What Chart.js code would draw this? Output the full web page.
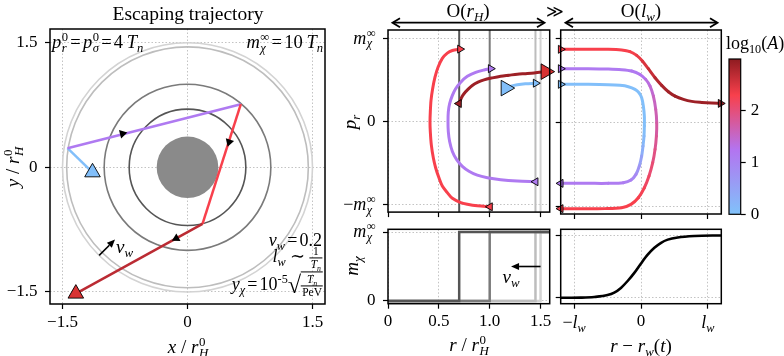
<!DOCTYPE html>
<html>
<head>
<meta charset="utf-8">
<script src="https://cdn.jsdelivr.net/npm/chart.js@4.4.1/dist/chart.umd.min.js"></script>
<style>
html,body{margin:0;padding:0;background:#fff;}
#fig{position:relative;width:784px;height:356px;overflow:hidden;font-family:"Liberation Serif","DejaVu Serif",serif;color:#000;}
#fig canvas{position:absolute;}
#fig svg{position:absolute;left:0;top:0;}
.t{position:absolute;white-space:nowrap;font-size:18px;line-height:1;}
.ss{display:inline-flex;flex-direction:column;font-size:0.68em;line-height:0.88;vertical-align:0.56em;margin-left:0.04em;}
sub{font-size:0.68em;vertical-align:-0.32em;line-height:0;}
sup{font-size:0.68em;vertical-align:0.55em;line-height:0;}
.eq{margin:0 0.12em;}
.fr{display:inline-flex;flex-direction:column;align-items:center;font-size:0.64em;line-height:1.05;vertical-align:middle;}
.fr .dn{border-top:1px solid #000;padding:0 1px;}
.rad{font-size:1.35em;vertical-align:-0.12em;}
.ov{border-top:1px solid #000;display:inline-block;padding-top:1px;}
</style>
</head>
<body>
<div id="fig">
<canvas id="cTraj"></canvas>
<canvas id="cMidTop"></canvas>
<canvas id="cMidBot"></canvas>
<canvas id="cRightTop"></canvas>
<canvas id="cRightBot"></canvas>
<canvas id="cBar"></canvas>
<svg width="784" height="356">
  <g stroke="#000" stroke-width="1.8" fill="none">
    <line x1="393" y1="22.7" x2="544" y2="22.7"/>
    <polyline points="400,18.2 392.5,22.7 400,27.2"/>
    <polyline points="537,18.2 544.5,22.7 537,27.2"/>
    <line x1="566" y1="22.7" x2="717" y2="22.7"/>
    <polyline points="573,18.2 565.5,22.7 573,27.2"/>
    <polyline points="710,18.2 717.5,22.7 710,27.2"/>
  </g>
</svg>
</div>
<script>
const FONT = '"Liberation Serif", "DejaVu Serif", serif';

// bubble wall radii at four times (units of r_H^0), darker = later
const wallR = [1.5, 1.45, 1.0, 0.7];
const wallCol = ['#d3d3d3', '#bdbdbd', '#7a7a7a', '#555555'];
const holeR = 0.37;
const mInf = 10;

// left panel: trajectory in the plane
const trajX = [-1.14, -1.44, 0.64, 0.18, -1.34];
const trajY = [-0.06, 0.23, 0.76, -0.68, -1.52];
const trajLogA = [0.05, 1.15, 2.3, 2.7];
const dirX = [-0.78, 0.50, -0.135];
const dirY = [0.405, 0.305, -0.856];
const dirRot = [76, 198, 241];

// middle panel: p_r against r
const midBlueR = [1.157, 1.21, 1.271, 1.35, 1.452];
const midBlueP = [4.05, 4.28, 4.44, 4.56, 4.64];
const midPurpleR = [1.452, 1.271, 1.108, 0.977, 0.878, 0.796, 0.731, 0.675, 0.633, 0.606, 0.593, 0.59, 0.593, 0.606, 0.633, 0.665, 0.715, 0.78, 0.862, 0.944, 1.01];
const midPurpleP = [-7.22, -7.14, -6.98, -6.74, -6.43, -5.95, -5.36, -4.56, -3.57, -2.38, -1.19, 0, 1.19, 2.18, 3.17, 3.97, 4.76, 5.47, 5.95, 6.23, 6.39];
const midRedR = [1.003, 0.878, 0.78, 0.715, 0.633, 0.583, 0.534, 0.501, 0.469, 0.446, 0.426, 0.416, 0.413, 0.416, 0.423, 0.439, 0.462, 0.492, 0.534, 0.583, 0.633, 0.708];
const midRedP = [-10.23, -10.11, -9.92, -9.72, -9.21, -8.53, -7.74, -6.75, -5.56, -4.37, -2.78, -1.19, 0, 1.19, 2.58, 3.97, 5.36, 6.55, 7.62, 8.26, 8.57, 8.74];
const midDarkR = [0.698, 0.721, 0.747, 0.786, 0.829, 0.885, 0.944, 1.026, 1.108, 1.19, 1.271, 1.353, 1.436, 1.55];
const midDarkP = [2.19, 2.86, 3.37, 3.89, 4.37, 4.76, 5.04, 5.28, 5.48, 5.6, 5.72, 5.79, 5.87, 6.03];
const curveLogA = [0.05, 1.15, 2.3, 2.9];
const midMarkR = [0.708, 1.01, 1.452, 1.452, 1.003, 0.698];
const midMarkP = [8.74, 6.39, 4.64, -7.22, -10.23, 2.19];
const midMarkDir = ['>', '>', '>', '<', '<', '<'];
const midMarkLogA = [2.3, 1.15, 0.05, 1.15, 2.3, 2.9];
const startR = 1.157, startP = 4.05, endR = 1.55, endP = 6.03;
const endCol = '#d83333';

// right panel: p_r against r - r_w(t), units of l_w
const rightBlueX = [-1.2, -0.788, -0.489, -0.314, -0.189, -0.09, -0.03, 0.01, 0.035, 0.05, 0.05, 0.045, 0.03, 0.01, -0.025, -0.075, -0.15, -0.264, -0.489, -0.788, -1.2];
const rightBlueP = [4.57, 4.57, 4.53, 4.45, 4.29, 3.97, 3.57, 2.98, 1.99, 0.8, -0.4, -1.59, -2.78, -3.97, -5.16, -6.15, -6.83, -7.14, -7.22, -7.22, -7.22];
const rightBlueA = [0.05, 0.05, 0.05, 0.05, 0.05, 0.05, 0.05, 0.05, 0.05, 0.05, 0.05, 0.08, 0.2, 0.4, 0.65, 0.85, 1.0, 1.1, 1.15, 1.15, 1.15];
const rightPurpleX = [-1.2, -0.788, -0.489, -0.289, -0.14, -0.015, 0.07, 0.135, 0.185, 0.22, 0.235, 0.23, 0.21, 0.175, 0.12, 0.05, -0.04, -0.15, -0.289, -0.539, -0.888, -1.2];
const rightPurpleP = [6.43, 6.43, 6.39, 6.31, 6.15, 5.75, 5.16, 4.37, 3.17, 1.59, 0, -1.59, -3.17, -4.76, -6.35, -7.74, -8.93, -9.72, -10.12, -10.23, -10.23, -10.23];
const rightPurpleA = [1.15, 1.15, 1.15, 1.15, 1.15, 1.2, 1.3, 1.4, 1.5, 1.6, 1.7, 1.8, 1.9, 2.0, 2.1, 2.2, 2.3, 2.3, 2.3, 2.3, 2.3, 2.3];
const rightRedX = [-1.2, -0.788, -0.489, -0.289, -0.165, -0.065, 0.02, 0.11, 0.21, 0.309, 0.409, 0.509, 0.634, 0.758, 0.908, 1.058, 1.19];
const rightRedP = [8.74, 8.74, 8.74, 8.66, 8.46, 8.02, 7.35, 6.43, 5.36, 4.45, 3.69, 3.17, 2.78, 2.54, 2.42, 2.34, 2.3];
const rightRedA = [2.3, 2.3, 2.3, 2.3, 2.3, 2.35, 2.45, 2.55, 2.7, 2.8, 2.85, 2.9, 2.9, 2.9, 2.9, 2.9, 2.9];
const rightMarkX = [-1.2, -1.2, -1.2, -1.2, -1.2, 1.19];
const rightMarkP = [8.74, 6.43, 4.57, -7.22, -10.23, 2.3];
const rightMarkDir = ['>', '>', '>', '<', '<', '>'];
const rightMarkLogA = [2.3, 1.15, 0.05, 1.15, 2.3, 2.9];

// bottom right: mass profile across the wall
const sigX = [-1.2, -0.9, -0.7, -0.5, -0.4, -0.3, -0.2, -0.1, 0, 0.1, 0.2, 0.3, 0.4, 0.55, 0.8, 1.2];
const sigM = [0.02, 0.05, 0.15, 0.45, 0.85, 1.6, 2.7, 4.0, 5.5, 6.9, 8.0, 8.8, 9.3, 9.65, 9.88, 9.97];

// colour bar, log10(A)
const cbarVals = [0, 1.25, 2.3, 3.0];
const cbarCols = ['#80c2fa', '#b374f0', '#f8404c', '#8e1b20'];
const cbarTicks = [0, 1, 2];

function hex(c) { return [1, 3, 5].map(i => parseInt(c.substr(i, 2), 16)); }
function cmap(v) {
  v = Math.max(cbarVals[0], Math.min(cbarVals[cbarVals.length - 1], v));
  for (let i = 0; i < cbarVals.length - 1; i++) {
    if (v <= cbarVals[i + 1]) {
      const t = (v - cbarVals[i]) / (cbarVals[i + 1] - cbarVals[i]);
      const a = hex(cbarCols[i]), b = hex(cbarCols[i + 1]);
      return 'rgb(' + a.map((x, k) => Math.round(x + (b[k] - x) * t)).join(',') + ')';
    }
  }
  return cbarCols[cbarCols.length - 1];
}

Chart.defaults.font.family = FONT;
Chart.defaults.font.size = 17;
Chart.defaults.color = '#000';

const boxPlugin = {
  id: 'box',
  afterDatasetsDraw(chart, args, opts) {
    const {ctx, chartArea: a} = chart;
    ctx.save();
    ctx.strokeStyle = '#000';
    ctx.lineWidth = opts.width || 1.5;
    ctx.strokeRect(a.left, a.top, a.right - a.left, a.bottom - a.top);
    ctx.restore();
  }
};

const wallsPlugin = {
  id: 'walls',
  beforeDatasetsDraw(chart) {
    const {ctx, chartArea: a, scales: {x, y}} = chart;
    const cx = x.getPixelForValue(0), cy = y.getPixelForValue(0);
    ctx.save();
    ctx.beginPath(); ctx.rect(a.left, a.top, a.right - a.left, a.bottom - a.top); ctx.clip();
    ctx.fillStyle = '#8a8a8a';
    ctx.beginPath();
    ctx.ellipse(cx, cy, x.getPixelForValue(holeR) - cx, cy - y.getPixelForValue(holeR), 0, 0, 2 * Math.PI);
    ctx.fill();
    ctx.lineWidth = 1.6;
    wallR.forEach((r, i) => {
      ctx.strokeStyle = wallCol[i];
      ctx.beginPath();
      ctx.ellipse(cx, cy, x.getPixelForValue(r) - cx, cy - y.getPixelForValue(r), 0, 0, 2 * Math.PI);
      ctx.stroke();
    });
    ctx.restore();
  }
};

const arrowPlugin = {
  id: 'arrows',
  afterDatasetsDraw(chart, args, opts) {
    const {ctx, scales: {x, y}} = chart;
    (opts.list || []).forEach(a => {
      const x0 = x.getPixelForValue(a[0]), y0 = y.getPixelForValue(a[1]);
      const x1 = x.getPixelForValue(a[2]), y1 = y.getPixelForValue(a[3]);
      const ang = Math.atan2(y1 - y0, x1 - x0), L = 8, W = 3.5;
      const bx = x1 - L * Math.cos(ang), by = y1 - L * Math.sin(ang);
      ctx.save();
      ctx.strokeStyle = ctx.fillStyle = '#000';
      ctx.lineWidth = 1.6;
      ctx.beginPath(); ctx.moveTo(x0, y0); ctx.lineTo(bx, by); ctx.stroke();
      ctx.beginPath();
      ctx.moveTo(x1, y1);
      ctx.lineTo(bx - W * Math.sin(ang), by + W * Math.cos(ang));
      ctx.lineTo(bx + W * Math.sin(ang), by - W * Math.cos(ang));
      ctx.closePath(); ctx.fill();
      ctx.restore();
    });
  }
};

// colour bar gradient, applied once the scale is laid out
function cbarGradient(chart) {
  const {ctx, scales} = chart;
  const lo = cbarVals[0], hi = cbarVals[cbarVals.length - 1];
  const y0 = scales.y.getPixelForValue(lo), y1 = scales.y.getPixelForValue(hi);
  const g = ctx.createLinearGradient(0, y0, 0, y1);
  cbarVals.forEach((v, i) => g.addColorStop((v - lo) / (hi - lo), cbarCols[i]));
  return g;
}
const gradPlugin = {
  id: 'grad',
  beforeDatasetsDraw(chart) {
    const g = cbarGradient(chart);
    chart.getDatasetMeta(0).data.forEach(el => { el.options.backgroundColor = g; });
  }
};

function lin(min, max, ticks, labels, pad) {
  return {
    type: 'linear', min, max,
    afterBuildTicks: s => { s.ticks = ticks.map(v => ({value: v})); },
    grid: {color: '#b4b4b4', lineWidth: 0.8, tickColor: '#000', tickWidth: 1.2, tickLength: 5},
    border: {display: false, dash: [1.5, 2]},
    ticks: {
      display: !!labels, padding: pad || 3, autoSkip: false, maxRotation: 0,
      font: {family: FONT, size: 17}, color: '#000',
      callback: (v, i) => labels ? labels[i] : ''
    }
  };
}

function noPad(s) { s.paddingTop = 0; s.paddingBottom = 0; s.paddingLeft = 0; s.paddingRight = 0; }

function mk(id, left, top, w, h, area, config) {
  const cv = document.getElementById(id);
  cv.width = w; cv.height = h;
  cv.style.left = left + 'px'; cv.style.top = top + 'px';
  const o = config.options;
  o.responsive = false; o.animation = false; o.events = [];
  o.layout = {padding: {left: 0, bottom: 0, top: area.t - top, right: left + w - area.r}};
  o.scales.x.afterFit = s => { s.height = top + h - area.b; noPad(s); };
  o.scales.y.afterFit = s => { s.width = area.l - left; noPad(s); };
  o.plugins = Object.assign({legend: {display: false}, tooltip: {enabled: false}}, o.plugins || {});
  return new Chart(cv, config);
}

function pts(xs, ys) { return xs.map((x, i) => ({x, y: ys[i]})); }
function curve(xs, ys, logA, extra) {
  const f = i => Array.isArray(logA) ? logA[i] : logA;
  return Object.assign({
    data: pts(xs, ys), showLine: true, pointRadius: 0, borderWidth: 3, tension: 0.3,
    borderColor: cmap(f(0)), borderCapStyle: 'round', borderJoinStyle: 'round',
    segment: {borderColor: c => cmap((f(c.p0DataIndex) + f(c.p1DataIndex)) / 2)},
    order: 1
  }, extra || {});
}
function marks(xs, ys, rot, fill, r, extra) {
  return Object.assign({
    data: pts(xs, ys), showLine: false, pointStyle: 'triangle', pointRadius: r,
    pointRotation: rot, pointBackgroundColor: fill, pointBorderColor: '#000', pointBorderWidth: 0.9,
    clip: false, order: 0
  }, extra || {});
}
const dirDeg = d => d.map(s => s === '>' ? 90 : 270);

// left: escaping trajectory
const traj = mk('cTraj', 0, 0, 345, 356, {l: 50, t: 29, r: 325, b: 304}, {
  type: 'scatter',
  data: {datasets: [
    marks([trajX[0]], [trajY[0]], 120, cmap(trajLogA[0]), 9),
    marks([trajX[4]], [trajY[4]], 0, endCol, 9),
    marks(dirX, dirY, dirRot, '#000', 5, {pointBorderWidth: 0}),
    {data: pts(trajX, trajY), showLine: true, pointRadius: 0, borderWidth: 2.5, tension: 0,
     borderColor: cmap(trajLogA[0]), segment: {borderColor: c => cmap(trajLogA[c.p0DataIndex])}, order: 1}
  ]},
  options: {
    scales: {
      x: lin(-1.65, 1.65, [-1.5, 0, 1.5], ['−1.5', '0', '1.5'], 3),
      y: lin(-1.645, 1.665, [-1.5, 0, 1.5], ['−1.5', '0', '1.5'], 7.5)
    },
    plugins: {arrows: {list: [[-1.06, -1.06, -0.87, -0.87]]}}
  },
  plugins: [wallsPlugin, arrowPlugin, boxPlugin]
});

// middle top: p_r vs r
const midTop = mk('cMidTop', 335, 0, 225, 222, {l: 388, t: 30, r: 549.7, b: 214}, {
  type: 'scatter',
  data: {datasets: [
    marks(midMarkR, midMarkP, dirDeg(midMarkDir), midMarkLogA.map(cmap), 4.6),
    marks([startR], [startP], 90, cmap(curveLogA[0]), 9),
    marks([endR], [endP], 90, endCol, 9),
    curve(midBlueR, midBlueP, curveLogA[0]),
    curve(midPurpleR, midPurpleP, curveLogA[1]),
    curve(midRedR, midRedP, curveLogA[2]),
    curve(midDarkR, midDarkP, curveLogA[3]),
    ...wallR.map((r, i) => ({data: [{x: r, y: -12}, {x: r, y: 12}], showLine: true, pointRadius: 0,
      borderColor: wallCol[i], borderWidth: 2, order: 2 + wallR.length - i}))
  ]},
  options: {
    scales: {
      x: lin(0, 1.59, [0, 0.5, 1, 1.5], null),
      y: lin(-10.87, 11.04, [-10, 0, 10], ['', '0', ''], 7.5)
    }
  },
  plugins: [boxPlugin]
});

// middle bottom: mass profile at the four wall positions
const midBot = mk('cMidBot', 335, 222, 225, 134, {l: 388, t: 229.3, r: 549.7, b: 303.7}, {
  type: 'scatter',
  data: {datasets: wallR.map((r, i) => ({
    data: [{x: 0, y: 0}, {x: r, y: mInf}, {x: 1.7, y: mInf}], showLine: true, stepped: true,
    pointRadius: 0, borderColor: wallCol[i], borderWidth: 2.5, order: 2 + wallR.length - i
  }))},
  options: {
    scales: {
      x: lin(0, 1.59, [0, 0.5, 1, 1.5], ['0', '0.5', '1.0', '1.5'], 3),
      y: lin(-0.4, 10.4, [0, mInf], ['0', ''], 7.5)
    },
    plugins: {arrows: {list: [[1.5, 5.0, 1.21, 5.0]]}}
  },
  plugins: [arrowPlugin, boxPlugin]
});

// right top: wall frame
const rightTop = mk('cRightTop', 550, 0, 181, 222, {l: 560.7, t: 30, r: 721.3, b: 214}, {
  type: 'scatter',
  data: {datasets: [
    marks(rightMarkX, rightMarkP, dirDeg(rightMarkDir), rightMarkLogA.map(cmap), 4.6),
    curve(rightBlueX, rightBlueP, rightBlueA),
    curve(rightPurpleX, rightPurpleP, rightPurpleA),
    curve(rightRedX, rightRedP, rightRedA)
  ]},
  options: {
    scales: {
      x: lin(-1.2, 1.2, [-1, 0, 1], null),
      y: lin(-10.87, 11.04, [-10, 0, 10], null)
    }
  },
  plugins: [boxPlugin]
});

// right bottom: wall profile
const rightBot = mk('cRightBot', 550, 222, 181, 134, {l: 560.7, t: 229.3, r: 721.3, b: 303.7}, {
  type: 'scatter',
  data: {datasets: [{data: pts(sigX, sigM), showLine: true, pointRadius: 0, borderColor: '#000',
    borderWidth: 2.6, cubicInterpolationMode: 'monotone'}]},
  options: {
    scales: {
      x: lin(-1.2, 1.2, [-1, 0, 1], ['', '0', ''], 3),
      y: lin(-0.92, 10.95, [0, mInf], null)
    }
  },
  plugins: [boxPlugin]
});

// colour bar
const cbCanvas = document.getElementById('cBar');
cbCanvas.width = 84; cbCanvas.height = 190;
cbCanvas.style.left = '700px'; cbCanvas.style.top = '40px';
const cbY = lin(0, cbarVals[cbarVals.length - 1], cbarTicks, cbarTicks.map(String), 5);
cbY.position = 'right';
cbY.grid.drawOnChartArea = false;
cbY.afterFit = s => { s.width = 784 - 740.7; noPad(s); };
const cbar = new Chart(cbCanvas, {
  type: 'bar',
  data: {labels: [''], datasets: [{data: [[cbarVals[0], cbarVals[cbarVals.length - 1]]],
    backgroundColor: cbarCols[0], borderWidth: 0, barPercentage: 1, categoryPercentage: 1}]},
  options: {
    responsive: false, animation: false, events: [],
    layout: {padding: {left: 29, top: 19, right: 0, bottom: 230 - 214.3}},
    scales: {x: {display: false}, y: cbY},
    plugins: {legend: {display: false}, tooltip: {enabled: false}, box: {width: 1.2}}
  },
  plugins: [gradPlugin, boxPlugin]
});

// text
const fig = document.getElementById('fig');
function put(html, x, y, align, rot, size) {
  const d = document.createElement('div');
  d.className = 't';
  d.innerHTML = html;
  d.style.left = x + 'px';
  d.style.top = y + 'px';
  if (size) d.style.fontSize = size + 'px';
  const tx = align === 'l' ? '0' : align === 'r' ? '-100%' : '-50%';
  d.style.transform = 'translate(' + tx + ',-50%)' + (rot ? ' rotate(' + rot + 'deg)' : '');
  fig.appendChild(d);
}
const I = s => '<i>' + s + '</i>';
const ss = (sup, sub) => '<span class="ss"><span>' + sup + '</span><span>' + sub + '</span></span>';
const frac = (n, d) => '<span class="fr"><span>' + n + '</span><span class="dn">' + d + '</span></span>';
const EQ = '<span class="eq">=</span>';
const Tn = I('T') + '<sub>' + I('n') + '</sub>';
const mInfTxt = I('m') + ss('∞', I('χ'));
const rH0 = I('r') + ss('0', I('H'));
function gx(ch, v) { return ch.canvas.offsetLeft + ch.scales.x.getPixelForValue(v); }
function gy(ch, v) { return ch.canvas.offsetTop + ch.scales.y.getPixelForValue(v); }

put('Escaping trajectory', 188, 14, 'c', 0, 19.5);
put(I('p') + ss('0', I('r')) + EQ + I('p') + ss('0', I('σ')) + EQ + '4&thinsp;' + Tn, 52, 43, 'l', 0, 18.5);
put(mInfTxt + EQ + '10&thinsp;' + Tn, 323, 43, 'r', 0, 18.5);
put(I('v') + '<sub>' + I('w') + '</sub>' + EQ + '0.2', 322, 240, 'r');
put(I('l') + '<sub>' + I('w') + '</sub> ∼ ' + frac('1', Tn), 322, 258, 'r');
put(I('y') + '<sub>' + I('χ') + '</sub>' + EQ + '10<sup>-5</sup><span class="rad">√</span><span class="ov">' + frac(Tn, 'PeV') + '</span>', 323, 285, 'r');
put(I('v') + '<sub>' + I('w') + '</sub>', 116, 246, 'l', 0, 19);
put(I('y') + ' / ' + rH0, 13, 167, 'c', -90, 19);
put(I('x') + ' / ' + rH0, 188, 347, 'c', 0, 19);

const yLab = midTop.canvas.offsetLeft + midTop.chartArea.left - 12.5;
put(mInfTxt, yLab, gy(midTop, 10), 'r');
put('−' + mInfTxt, yLab, gy(midTop, -10), 'r');
put(mInfTxt, yLab, gy(midBot, mInf), 'r');
put(I('p') + '<sub>' + I('r') + '</sub>', 349, 122, 'c', -90, 19);
put(I('m') + '<sub>' + I('χ') + '</sub>', 351, 266, 'c', -90, 19);
put(I('v') + '<sub>' + I('w') + '</sub>', 511, 276, 'c', 0, 19);
put(I('r') + ' / ' + rH0, 469, 345, 'c', 0, 19);
put(I('r') + ' − ' + I('r') + '<sub>' + I('w') + '</sub>(' + I('t') + ')', 641, 345, 'c', 0, 19);
put('−' + I('l') + '<sub>' + I('w') + '</sub>', gx(rightBot, -1), 322, 'c');
put(I('l') + '<sub>' + I('w') + '</sub>', gx(rightBot, 1), 322, 'c');
put('O(' + I('r') + '<sub>' + I('H') + '</sub>)', 468, 10, 'c', 0, 19);
put('≫', 555, 11, 'c', 0, 17);
put('O(' + I('l') + '<sub>' + I('w') + '</sub>)', 641, 10, 'c', 0, 19);
put('log<sub>10</sub>(' + I('A') + ')', 755, 43, 'c', 0, 18);
</script>
</body>
</html>
